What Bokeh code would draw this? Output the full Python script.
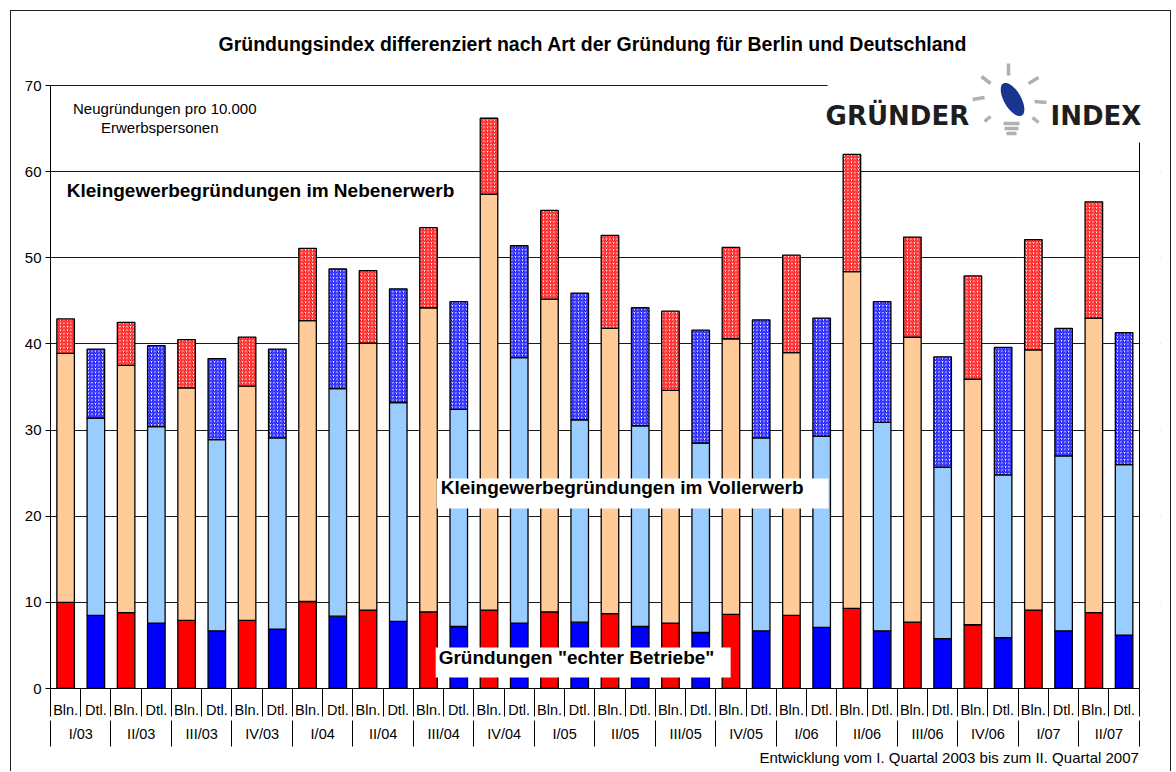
import math
from bokeh.plotting import figure
from bokeh.models import (ColumnDataSource, FixedTicker, LinearAxis, Range1d, Label,
                          BoxAnnotation, Title, PolyAnnotation, Arrow)
from bokeh.transform import stack
from bokeh.embed import file_html
from bokeh.resources import INLINE

# ---------------- data ----------------
quarters = ["I/03", "II/03", "III/03", "IV/03", "I/04", "II/04", "III/04", "IV/04",
            "I/05", "II/05", "III/05", "IV/05", "I/06", "II/06", "III/06", "IV/06",
            "I/07", "II/07"]
regions = ["Bln.", "Dtl."]

# Gründungen "echter Betriebe"
bln_echte = [10.0, 8.8, 7.9, 7.9, 10.1, 9.1, 8.9, 9.1, 8.9, 8.7, 7.6, 8.6, 8.5, 9.3, 7.7, 7.4, 9.1, 8.8]
dtl_echte = [8.5, 7.6, 6.7, 6.9, 8.4, 7.8, 7.2, 7.6, 7.7, 7.2, 6.5, 6.7, 7.1, 6.7, 5.8, 5.9, 6.7, 6.2]
# Kleingewerbegründungen im Vollerwerb
bln_voll = [28.9, 28.7, 27.0, 27.2, 32.6, 31.0, 35.3, 48.3, 36.3, 33.1, 27.0, 32.0, 30.5, 39.1, 33.1, 28.5, 30.2, 34.2]
dtl_voll = [22.9, 22.8, 22.2, 22.2, 26.4, 25.4, 25.2, 30.8, 23.5, 23.3, 22.0, 22.4, 22.2, 24.2, 19.9, 18.9, 20.3, 19.8]
# Kleingewerbegründungen im Nebenerwerb
bln_neben = [4.0, 5.0, 5.6, 5.7, 8.4, 8.4, 9.3, 8.8, 10.3, 10.8, 9.2, 10.6, 11.3, 13.6, 11.6, 12.0, 12.8, 13.5]
dtl_neben = [8.0, 9.4, 9.4, 10.3, 13.9, 13.2, 12.5, 13.0, 14.7, 13.7, 13.1, 13.7, 13.7, 14.0, 12.8, 14.8, 14.8, 15.3]

y_ticks = [0, 10, 20, 30, 40, 50, 60, 70]
Y_MAX = 70

# ---------------- geometry ----------------
W, H = 1161, 761
n_bars = 2 * len(quarters)
XMAX = 2 * n_bars          # each bar slot is 2 units wide
BAR_W = 1.16

# page-pixel -> data helpers (only for decorative texts / logo)
FL, FR, FT, FB = 49.7, 1138.7, 85.0, 688.0
def px2x(px):
    return (px - FL) / (FR - FL) * XMAX
def py2y(py):
    return (FB - py) / (FB - FT) * Y_MAX

X_END = px2x(1160)      # frame extends a bit beyond the last bar slot (room for logo)
Y_END = py2y(58)        # ... and above 70 (room for logo)

FONT = "Liberation Sans"

p = figure(width=W, height=H, output_backend="svg", toolbar_location=None,
           x_range=Range1d(0, X_END), y_range=Range1d(0, Y_END), x_axis_type=None,
           background_fill_color="white", border_fill_color="white")
p.margin = (10, 0, 0, 10)
p.styles = {"border-top": "1px solid #222", "border-left": "1px solid #222",
            "border-right": "1px solid #222"}
p.min_border_left = 39
p.min_border_right = 12
p.min_border_top = 47
p.min_border_bottom = 84
p.outline_line_color = None

# title
p.title.text = "Gründungsindex differenziert nach Art der Gründung für Berlin und Deutschland"
p.title.align = "left"
p.title.offset = 168
p.title.text_font = FONT
p.title.text_font_size = "19.5px"
p.title.text_font_style = "bold"
p.title.text_color = "black"
p.title.standoff = 7

# y axis
p.yaxis.ticker = FixedTicker(ticks=y_ticks)
p.yaxis.bounds = (0, Y_MAX)
p.yaxis.major_tick_out = 5
p.yaxis.major_tick_in = 0
p.yaxis.minor_tick_line_color = None
p.yaxis.axis_line_color = "black"
p.yaxis.major_tick_line_color = "black"
p.yaxis.major_label_text_font = FONT
p.yaxis.major_label_text_font_size = "15px"
p.yaxis.major_label_text_color = "black"
p.yaxis.major_label_standoff = 4
p.ygrid.grid_line_color = "#1a1a1a"
p.ygrid.grid_line_width = 1

# right edge of the plot area (stops below the logo)
rax = LinearAxis(ticker=FixedTicker(ticks=[]), fixed_location=XMAX, bounds=(0, py2y(141.5)),
                 axis_line_color="black", major_tick_line_color=None, minor_tick_line_color=None,
                 major_label_text_font_size="0px")
p.add_layout(rax, "right")

# bars
x_bln = [4 * i + 1 for i in range(len(quarters))]
x_dtl = [4 * i + 3 for i in range(len(quarters))]
src_b = ColumnDataSource(dict(x=x_bln, echte=bln_echte, voll=bln_voll, neben=bln_neben))
src_d = ColumnDataSource(dict(x=x_dtl, echte=dtl_echte, voll=dtl_voll, neben=dtl_neben))

for src, c_solid, c_light in ((src_b, "#FF0000", "#FFCC99"), (src_d, "#0000FF", "#99CCFF")):
    p.vbar(x="x", width=BAR_W, bottom=0, top="echte", source=src,
           fill_color=c_solid, line_color="black", line_width=1.3)
    p.vbar(x="x", width=BAR_W, bottom=stack("echte"), top=stack("echte", "voll"), source=src,
           fill_color=c_light, line_color="black", line_width=1.3)
    p.vbar(x="x", width=BAR_W, bottom=stack("echte", "voll"), top=stack("echte", "voll", "neben"),
           source=src, fill_color="white", hatch_pattern="/", hatch_color=c_solid,
           hatch_scale=3.5, hatch_weight=1.2, line_color="black", line_width=1.3)

# white strip right of the plot area (hides grid line ends)
p.add_layout(BoxAnnotation(left=XMAX + 0.06, right=X_END + 1, bottom=-1, top=Y_END + 1,
                           fill_color="white", fill_alpha=1, line_color=None, level="overlay"))

# category axes (two levels)
centers = x_bln + x_dtl
sub_over = {x: regions[0] for x in x_bln}
sub_over.update({x: regions[1] for x in x_dtl})
bounds = list(range(0, XMAX + 1, 2))
ax1 = LinearAxis(ticker=FixedTicker(ticks=sorted(centers), minor_ticks=bounds),
                 bounds=(0, XMAX), major_label_overrides=sub_over,
                 major_tick_line_color=None, major_tick_out=0, major_tick_in=0,
                 minor_tick_line_color="black", minor_tick_out=0, minor_tick_in=-28,
                 axis_line_color="black", major_label_standoff=13,
                 major_label_text_font=FONT, major_label_text_font_size="14.5px",
                 major_label_text_color="black")
p.add_layout(ax1, "below")

q_centers = [4 * i + 2 for i in range(len(quarters))]
q_bounds = list(range(0, XMAX + 1, 4))
ax2 = LinearAxis(ticker=FixedTicker(ticks=q_centers, minor_ticks=q_bounds),
                 bounds=(0, XMAX),
                 major_label_overrides={c: q for c, q in zip(q_centers, quarters)},
                 major_tick_line_color=None, major_tick_out=0, major_tick_in=0,
                 minor_tick_line_color="black", minor_tick_out=0, minor_tick_in=-26,
                 axis_line_color=None, major_label_standoff=5,
                 major_label_text_font=FONT, major_label_text_font_size="14.5px",
                 major_label_text_color="black")
p.add_layout(ax2, "below")

foot = Title(text="Entwicklung vom I. Quartal 2003 bis zum  II. Quartal 2007", align="left",
             offset=709, text_font=FONT, text_font_size="15px", text_font_style="normal",
             text_color="black", standoff=5)
p.add_layout(foot, "below")

# in-plot texts
p.add_layout(Label(x=px2x(164), y=py2y(116), text="Neugründungen pro 10.000", text_align="center",
                   text_font=FONT, text_font_size="15px", text_color="black"))
p.add_layout(Label(x=px2x(159), y=py2y(135), text="Erwerbspersonen", text_align="center",
                   text_font=FONT, text_font_size="15px", text_color="black"))
p.add_layout(Label(x=px2x(66), y=py2y(200), text="Kleingewerbegründungen im Nebenerwerb",
                   text_font=FONT, text_font_size="19px", text_font_style="bold", text_color="black"))

p.add_layout(BoxAnnotation(left=px2x(436), right=px2x(828), top=py2y(478), bottom=py2y(508),
                           fill_color="white", fill_alpha=1, line_color=None, level="overlay"))
lab_v = Label(x=px2x(440), y=py2y(497), text="Kleingewerbegründungen im Vollerwerb",
              text_font=FONT, text_font_size="19px", text_font_style="bold", text_color="black")
lab_v.level = "overlay"
p.add_layout(lab_v)
p.add_layout(BoxAnnotation(left=px2x(435), right=px2x(730), top=py2y(647), bottom=py2y(677),
                           fill_color="white", fill_alpha=1, line_color=None, level="overlay"))
lab_e = Label(x=px2x(438), y=py2y(667), text='Gründungen "echter Betriebe"',
              text_font=FONT, text_font_size="19px", text_font_style="bold", text_color="black")
lab_e.level = "overlay"
p.add_layout(lab_e)

# logo area (covers the end of the 70 grid line)
p.add_layout(BoxAnnotation(left=px2x(827), right=X_END + 1, top=Y_END + 1, bottom=py2y(141.5),
                           fill_color="white", fill_alpha=1, line_color=None, level="overlay"))
for txt, lx in (("GRÜNDER", 825), ("INDEX", 1050)):
    lb = Label(x=px2x(lx), y=py2y(130), text=txt, text_font="DejaVu Sans", text_font_size="26px",
               text_font_style="bold", text_color="#1e1e1e")
    lb.level = "overlay"
    p.add_layout(lb)

rays = [((1008, 63), (1008, 75)), ((981, 76), (990, 83)), ((1028, 83), (1038, 77)),
        ((972, 99), (984, 97)), ((1034, 101), (1046, 102)), ((984, 121), (990, 116)),
        ((1032, 117), (1038, 122)),
        ((1003, 123), (1019, 123)), ((1004, 128), (1018, 128)), ((1006, 133), (1016, 133))]
for (x0, y0), (x1, y1) in rays:
    a = Arrow(end=None, x_start=px2x(x0), y_start=py2y(y0), x_end=px2x(x1), y_end=py2y(y1),
              line_color="#b0b0b0", line_width=3.5)
    a.level = "overlay"
    p.add_layout(a)

cx, cy, ra, rb, tilt = 1012.0, 99.0, 8.5, 18.5, math.radians(30)
exs, eys = [], []
for k in range(40):
    t = 2 * math.pi * k / 40
    dx, dy = ra * math.cos(t), rb * math.sin(t)
    ex = cx + dx * math.cos(tilt) + dy * math.sin(tilt)
    ey = cy - dx * math.sin(tilt) + dy * math.cos(tilt)
    exs.append(px2x(ex))
    eys.append(py2y(ey))
bulb = PolyAnnotation(xs=exs, ys=eys, fill_color="#1a3590", fill_alpha=1, line_color=None, level="overlay")
p.add_layout(bulb)

open("out.html", "w").write(file_html(p, INLINE))
